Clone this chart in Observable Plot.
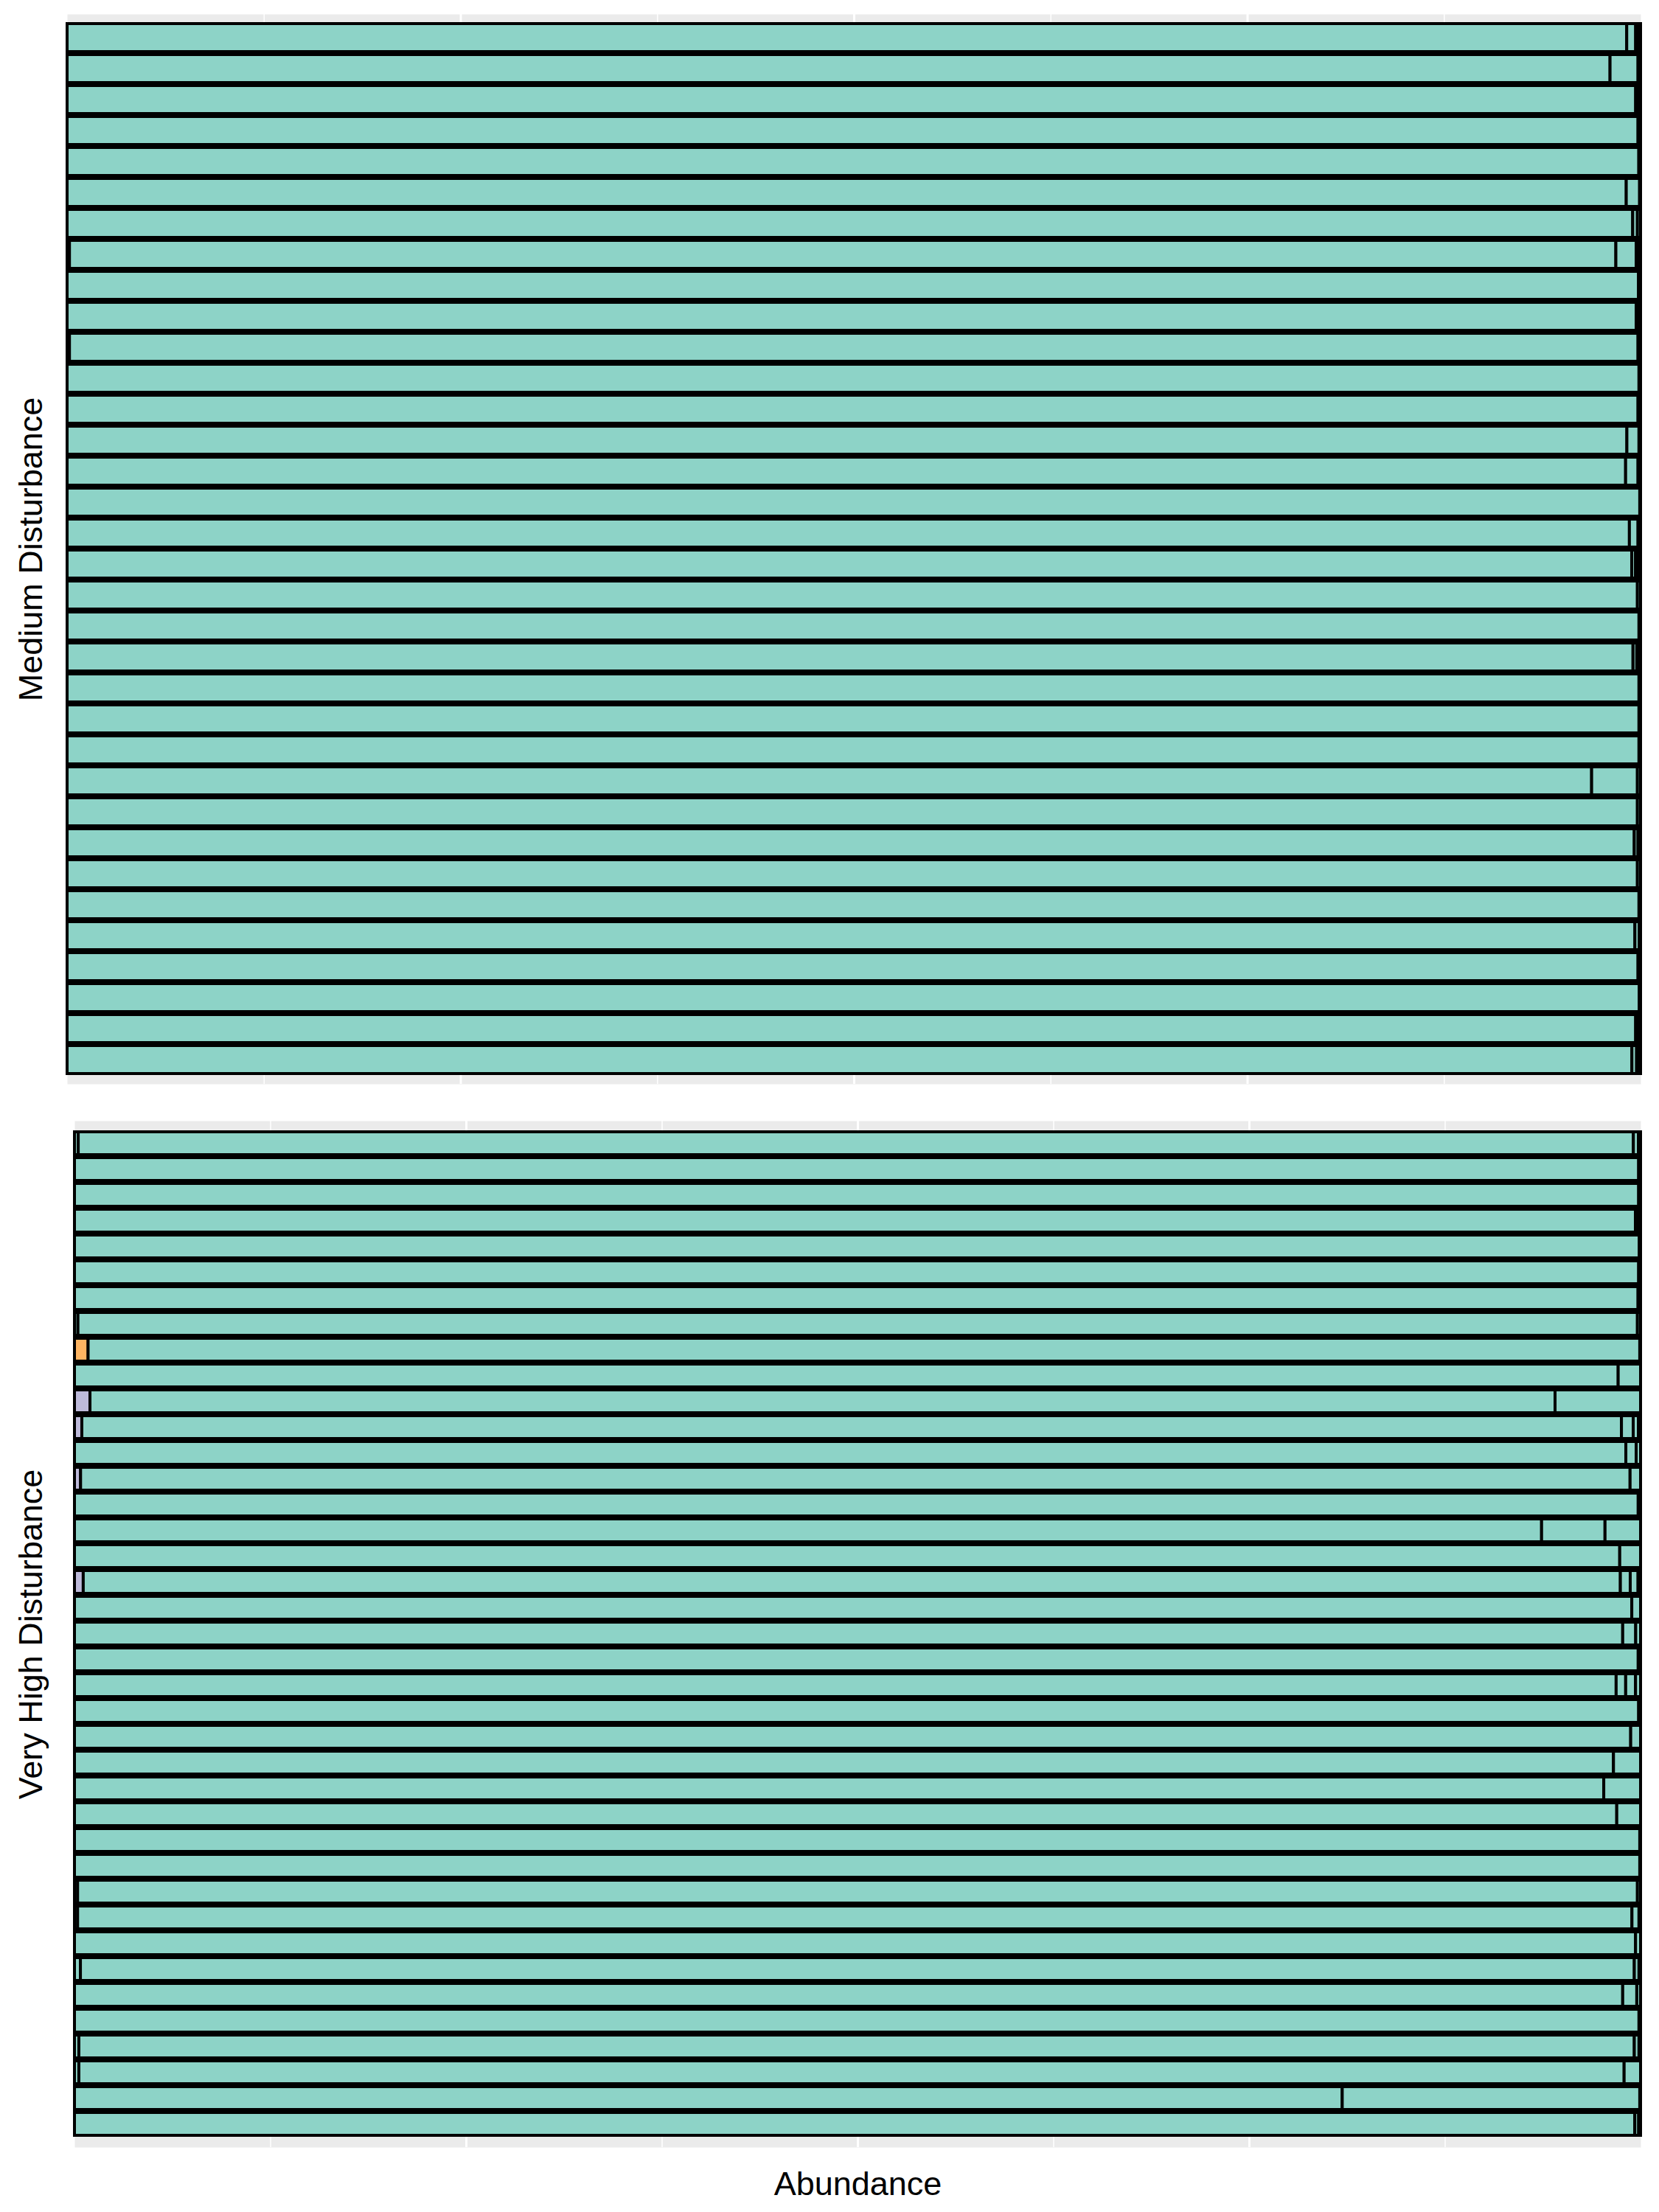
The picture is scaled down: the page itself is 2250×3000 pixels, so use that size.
<!DOCTYPE html>
<html>
<head>
<meta charset="utf-8">
<script src="https://cdn.jsdelivr.net/npm/d3@7"></script>
<script src="https://cdn.jsdelivr.net/npm/@observablehq/plot@0.6"></script>
<style>
  html, body { margin: 0; padding: 0; background: #ffffff; }
  #chart { width: 2250px; }
  #chart svg { display: block; }
</style>
</head>
<body>
<div id="chart"></div>
<script>
// ---------------- data ----------------
const groups = ["Group A", "Group B", "Group C"];
const groupColors = ["#8DD3C7", "#FDB462", "#BEBADA"];

// Medium Disturbance samples (top to bottom)
const mediumSamples = ["M01","M02","M03","M04","M05","M06","M07","M08","M09","M10",
  "M11","M12","M13","M14","M15","M16","M17","M18","M19","M20",
  "M21","M22","M23","M24","M25","M26","M27","M28","M29","M30",
  "M31","M32","M33","M34"];
const mediumLeft = [0,0,0,0,0,0,0,0.15,0,0,0.15,0,0,0,0,0,0,0,0,0,0,0,0,0,0,0,0,0,0,0,0,0,0,0];
const mediumDominant = [99.12,98.06,99.69,99.84,99.89,99.09,99.5,98.28,99.87,99.72,
  99.69,99.9,99.84,99.13,99.05,99.95,99.29,99.44,99.8,99.9,
  99.52,99.9,99.9,99.9,96.89,99.8,99.6,99.8,99.9,99.64,
  99.84,99.92,99.69,99.45];
const mediumMinor1 = [0.57,1.78,0.18,0.16,0.11,0.85,0.3,1.29,0.13,0.14,
  0.16,0.1,0.16,0.77,0.79,0.05,0.55,0.24,0.2,0.1,
  0.24,0.1,0.1,0.1,2.91,0.2,0.24,0.2,0.1,0.28,
  0.16,0.08,0.16,0.3];
const mediumMinor2 = [0.16,0.16,0.13,0,0,0.06,0.2,0.15,0,0.14,
  0,0,0,0.1,0.16,0,0.16,0.16,0,0,
  0.11,0,0,0,0.2,0,0.16,0,0,0.08,
  0,0,0.15,0.15];
const mediumMinor3 = [0.15,0,0,0,0,0,0,0.13,0,0,
  0,0,0,0,0,0,0,0.16,0,0,
  0.13,0,0,0,0,0,0,0,0,0,
  0,0,0,0.1];

// Very High Disturbance samples (top to bottom)
const highSamples = ["H01","H02","H03","H04","H05","H06","H07","H08","H09","H10",
  "H11","H12","H13","H14","H15","H16","H17","H18","H19","H20",
  "H21","H22","H23","H24","H25","H26","H27","H28","H29","H30",
  "H31","H32","H33","H34","H35","H36","H37","H38","H39"];
const highOrange = [0,0,0,0,0,0,0,0,0.87,0,
  0,0,0,0,0,0,0,0,0,0,
  0,0,0,0,0,0,0,0,0,0,
  0,0,0,0,0,0,0,0,0];
const highLavender = [0,0,0,0,0,0,0,0,0,0,
  0.99,0.47,0,0.39,0,0,0,0.56,0,0,
  0,0,0,0,0,0,0,0,0,0,
  0,0,0,0,0,0,0,0,0];
const highLeft = [0.24,0,0,0,0,0,0,0.22,0,0,
  0,0,0,0,0,0,0,0,0,0,
  0,0,0,0,0,0,0,0,0,0.2,
  0.2,0,0.38,0,0,0.28,0.28,0,0];
const highDominant = [99.3,99.88,99.88,99.67,99.92,99.88,99.84,99.58,99.08,98.57,
  93.55,98.31,99.06,98.94,99.85,93.68,98.67,98.15,99.44,98.86,
  99.85,98.44,99.88,99.37,98.27,97.65,98.48,99.95,99.95,99.6,
  99.25,99.68,99.22,98.86,99.9,99.32,98.67,80.95,99.63];
const highMinor1 = [0.32,0.12,0.12,0.19,0.08,0.12,0.16,0.2,0.05,1.43,
  5.46,0.75,0.66,0.67,0.15,4.05,1.33,0.63,0.56,0.83,
  0.15,0.61,0.12,0.63,1.73,2.35,1.52,0.05,0.05,0.2,
  0.45,0.32,0.3,0.9,0.1,0.3,1.05,19.0,0.25];
const highMinor2 = [0.14,0,0,0.14,0,0,0,0,0,0,
  0,0.33,0.28,0,0,2.27,0,0.5,0,0.31,
  0,0.63,0,0,0,0,0,0,0,0,
  0.1,0,0.1,0.24,0,0.1,0,0.05,0.12];
const highMinor3 = [0,0,0,0,0,0,0,0,0,0,
  0,0.14,0,0,0,0,0,0.16,0,0,
  0,0.32,0,0,0,0,0,0,0,0,
  0,0,0,0,0,0,0,0,0];

const majorTicks = [0.25, 0.5, 0.75];
const minorTicks = [0.125, 0.375, 0.625, 0.875];

// ---------------- build tidy rows ----------------
function tidy(samples, series) {
  const rows = [];
  samples.forEach((s, i) => {
    series.forEach(sr => {
      const v = sr.values[i];
      if (v > 0) rows.push({sample: s, species: sr.name, group: sr.group, value: v});
    });
  });
  return rows;
}

const mediumRows = tidy(mediumSamples, [
  {name: "Left species", group: "Group C", values: mediumLeft},
  {name: "Dominant species", group: "Group A", values: mediumDominant},
  {name: "Minor species 1", group: "Group A", values: mediumMinor1},
  {name: "Minor species 2", group: "Group A", values: mediumMinor2},
  {name: "Minor species 3", group: "Group A", values: mediumMinor3}
]);

const highRows = tidy(highSamples, [
  {name: "Orange species", group: "Group B", values: highOrange},
  {name: "Lavender species", group: "Group C", values: highLavender},
  {name: "Left species", group: "Group A", values: highLeft},
  {name: "Dominant species", group: "Group A", values: highDominant},
  {name: "Minor species 1", group: "Group A", values: highMinor1},
  {name: "Minor species 2", group: "Group A", values: highMinor2},
  {name: "Minor species 3", group: "Group A", values: highMinor3}
]);

const FONT = "'Liberation Sans', Arial, Helvetica, sans-serif";

function panel({samples, rows, height, marginTop, marginBottom, marginLeft, paddingInner, title, titleDx, xlabel, xlabelDy}) {
  const marks = [
    Plot.frame({fill: "#EBEBEB", stroke: "none"}),
    Plot.ruleX(minorTicks, {stroke: "white", strokeWidth: 1.5}),
    Plot.ruleX(majorTicks, {stroke: "white", strokeWidth: 3}),
    Plot.barX(rows, Plot.stackX({
      x: "value", y: "sample", fill: "group",
      offset: "normalize", stroke: "black", strokeWidth: 4
    })),
    Plot.text([title], {
      text: d => d, frameAnchor: "left", textAnchor: "middle", dx: titleDx, rotate: -90,
      fontSize: 45, fill: "black", fontFamily: FONT
    })
  ];
  if (xlabel) {
    marks.push(Plot.text([xlabel], {
      text: d => d, frameAnchor: "bottom", textAnchor: "middle", dy: xlabelDy,
      fontSize: 45, fill: "black", fontFamily: FONT
    }));
  }
  return Plot.plot({
    width: 2250,
    height,
    marginTop,
    marginBottom,
    marginLeft,
    marginRight: 25,
    style: {fontFamily: FONT, background: "transparent", overflow: "visible"},
    x: {domain: [0, 1], axis: null},
    y: {domain: samples, paddingInner, paddingOuter: 0.15, axis: null},
    color: {domain: groups, range: groupColors},
    marks
  });
}

const chart = document.getElementById("chart");
chart.appendChild(panel({
  samples: mediumSamples, rows: mediumRows,
  height: 1500, marginTop: 19, marginBottom: 30, marginLeft: 91, paddingInner: 0.09,
  title: "Medium Disturbance", titleDx: -49
}));
chart.appendChild(panel({
  samples: highSamples, rows: highRows,
  height: 1500, marginTop: 20, marginBottom: 88, marginLeft: 101, paddingInner: 0.105,
  title: "Very High Disturbance", titleDx: -59,
  xlabel: "Abundance", xlabelDy: 64
}));
</script>
</body>
</html>
